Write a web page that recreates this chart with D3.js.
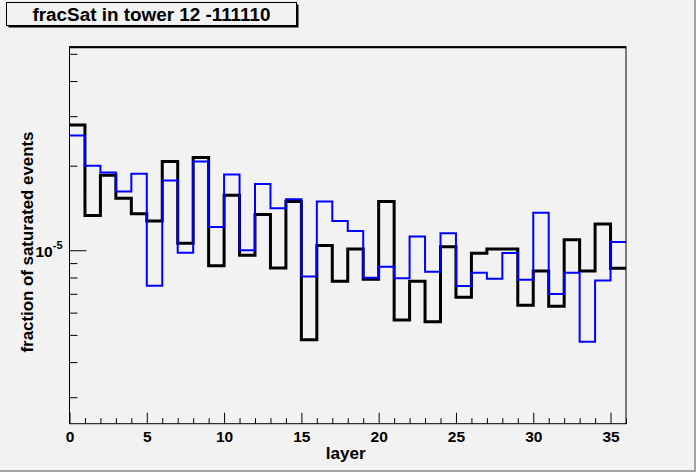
<!DOCTYPE html>
<html>
<head>
<meta charset="utf-8">
<script src="https://cdn.jsdelivr.net/npm/d3@7"></script>
<style>
html, body { margin: 0; padding: 0; background: #f2f2f2; }
svg { display: block; font-family: "Liberation Sans", Arial, Helvetica, sans-serif; font-weight: bold; }
</style>
</head>
<body>
<script>
// bins (layer index, width 1)
var layers = [0, 1, 2, 3, 4, 5, 6, 7, 8, 9, 10, 11, 12, 13, 14, 15, 16, 17,
              18, 19, 20, 21, 22, 23, 24, 25, 26, 27, 28, 29, 30, 31, 32, 33, 34, 35];

// black histogram (thick)
var fracBlack = [2.79e-5, 1.33e-5, 1.85e-5, 1.53e-5, 1.35e-5, 1.27e-5, 2.07e-5, 1.06e-5,
                 2.14e-5, 8.8e-6, 1.57e-5, 9.6e-6, 1.34e-5, 8.65e-6, 1.49e-5, 4.8e-6,
                 1.04e-5, 7.76e-6, 1.01e-5, 7.88e-6, 1.49e-5, 5.65e-6, 7.76e-6, 5.57e-6,
                 1.03e-5, 6.8e-6, 9.76e-6, 1.01e-5, 1.01e-5, 6.37e-6, 8.44e-6, 6.32e-6,
                 1.09e-5, 8.44e-6, 1.24e-5, 8.63e-6];

// blue histogram
var fracBlue = [2.56e-5, 2.0e-5, 1.89e-5, 1.62e-5, 1.87e-5, 7.48e-6, 1.77e-5, 9.8e-6,
                2.07e-5, 1.21e-5, 1.86e-5, 1.0e-5, 1.72e-5, 1.41e-5, 1.52e-5, 8.06e-6,
                1.49e-5, 1.27e-5, 1.17e-5, 7.99e-6, 8.74e-6, 7.95e-6, 1.12e-5, 8.39e-6,
                1.15e-5, 7.46e-6, 8.32e-6, 7.92e-6, 9.78e-6, 7.86e-6, 1.36e-5, 6.99e-6,
                8.32e-6, 4.73e-6, 7.8e-6, 1.07e-5];

var xMajorTicks = [0, 5, 10, 15, 20, 25, 30, 35];
var yMajorTicks = [1e-5];
var yMinorTicks = [3e-6, 4e-6, 5e-6, 6e-6, 7e-6, 8e-6, 9e-6, 2e-5, 3e-5, 4e-5, 5e-5];

var width = 696,
    height = 472;
var margin = {top: 46.7, right: 70, bottom: 48.3, left: 69.5};

var svg = d3.select("body").append("svg")
    .attr("width", width)
    .attr("height", height);

svg.append("rect")
    .attr("width", width)
    .attr("height", height)
    .attr("fill", "#f2f2f2");

// canvas bevel, right and bottom
svg.append("rect").attr("x", width - 2).attr("y", 0).attr("width", 2).attr("height", height).attr("fill", "#a3a3a3");
svg.append("rect").attr("x", 0).attr("y", height - 2).attr("width", width).attr("height", 2).attr("fill", "#a3a3a3");

var x = d3.scaleLinear()
    .domain([0, 36])
    .range([margin.left, width - margin.right]);

var y = d3.scaleLog()
    .domain([2.415e-6, 5.3e-5])
    .range([height - margin.bottom, margin.top]);

// histograms
var step = d3.line()
    .x(function (d) { return x(d[0]); })
    .y(function (d) { return y(d[1]); })
    .curve(d3.curveStepAfter);

function histPoints(vals)
{
    var pts = layers.map(function (l, i) { return [l, vals[i]]; });
    pts.push([layers[layers.length - 1] + 1, vals[vals.length - 1]]);
    return pts;
}

svg.append("path")
    .datum(histPoints(fracBlack))
    .attr("d", step)
    .attr("fill", "none")
    .attr("stroke", "#000")
    .attr("stroke-width", 3);

svg.append("path")
    .datum(histPoints(fracBlue))
    .attr("d", step)
    .attr("fill", "none")
    .attr("stroke", "#0000ff")
    .attr("stroke-width", 2);

// frame
var x0 = x(0), x1 = x(36), yb = y.range()[0], yt = y.range()[1];
svg.append("rect")
    .attr("x", x0)
    .attr("y", yt)
    .attr("width", x1 - x0)
    .attr("height", yb - yt)
    .attr("fill", "none")
    .attr("stroke", "#000")
    .attr("stroke-width", 1);
svg.append("line")
    .attr("x1", x0).attr("x2", x1)
    .attr("y1", yt + 0.5).attr("y2", yt + 0.5)
    .attr("stroke", "#000").attr("stroke-width", 2);

// x axis (ticks point inward)
var xAxis = d3.axisBottom(x)
    .tickValues(layers.concat([36]))
    .tickSize(0)
    .tickFormat("");

var gx = svg.append("g")
    .attr("transform", "translate(0," + yb + ")")
    .call(xAxis);
gx.select(".domain").remove();
gx.selectAll(".tick line")
    .attr("stroke", "#000")
    .attr("y2", function (d) { return xMajorTicks.indexOf(d) >= 0 ? -11 : -5.5; });
gx.selectAll(".tick")
    .filter(function (d) { return xMajorTicks.indexOf(d) >= 0; })
    .append("text")
    .attr("y", 18.6)
    .attr("fill", "#000")
    .attr("text-anchor", "middle")
    .style("font-size", "15.5px")
    .style("font-family", "'Liberation Sans', Arial, sans-serif")
    .style("font-weight", "bold")
    .text(function (d) { return d; });

// y axis (ticks point inward)
var yAxis = d3.axisLeft(y)
    .tickValues(yMinorTicks.concat(yMajorTicks))
    .tickSize(0)
    .tickFormat("");

var gy = svg.append("g")
    .attr("transform", "translate(" + x0 + ",0)")
    .call(yAxis);
gy.select(".domain").remove();
gy.selectAll(".tick line")
    .attr("stroke", "#000")
    .attr("x2", function (d) { return yMajorTicks.indexOf(d) >= 0 ? 17 : 8; });

yMajorTicks.forEach(function (v) {
    var t = svg.append("text")
        .attr("x", x0 - 7)
        .attr("y", y(v) + 7)
        .attr("text-anchor", "end")
        .style("font-size", "15.5px");
    t.append("tspan").text("10");
    t.append("tspan")
        .attr("dy", -8)
        .style("font-size", "11px")
        .text("-" + Math.round(-Math.log10(v)));
});

// axis titles
svg.append("text")
    .attr("x", (x0 + x1) / 2 - 2)
    .attr("y", 459)
    .attr("text-anchor", "middle")
    .attr("textLength", 40)
    .attr("lengthAdjust", "spacingAndGlyphs")
    .style("font-size", "17px")
    .text("layer");

svg.append("text")
    .attr("transform", "translate(33,242) rotate(-90)")
    .attr("text-anchor", "middle")
    .attr("textLength", 221)
    .attr("lengthAdjust", "spacingAndGlyphs")
    .style("font-size", "17px")
    .text("fraction of saturated events");

// title box with shadow
var tb = {x: 6.5, y: 2.5, w: 290, h: 23};
svg.append("rect")
    .attr("x", tb.x + 2).attr("y", tb.y + 2)
    .attr("width", tb.w).attr("height", tb.h)
    .attr("fill", "#000");
svg.append("rect")
    .attr("x", tb.x).attr("y", tb.y)
    .attr("width", tb.w).attr("height", tb.h)
    .attr("fill", "#f2f2f2")
    .attr("stroke", "#000")
    .attr("stroke-width", 1);
svg.append("text")
    .attr("x", tb.x + tb.w / 2)
    .attr("y", 20.5)
    .attr("text-anchor", "middle")
    .attr("textLength", 238)
    .attr("lengthAdjust", "spacingAndGlyphs")
    .style("font-size", "17.5px")
    .text("fracSat in tower 12 -111110");
</script>
</body>
</html>
